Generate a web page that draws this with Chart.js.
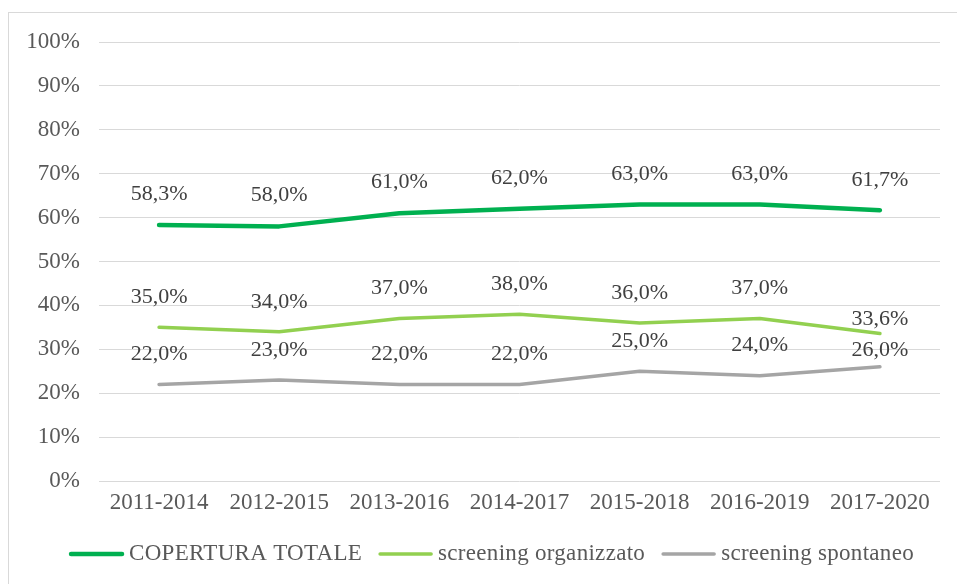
<!DOCTYPE html>
<html>
<head>
<meta charset="utf-8">
<script src="https://cdn.jsdelivr.net/npm/chart.js@4/dist/chart.umd.min.js"></script>
<style>
  html, body { margin: 0; padding: 0; background: #ffffff; overflow: hidden; }
  #frame { position: absolute; left: 8px; top: 12px; width: 1000px; height: 1000px; border: 1px solid #d9d9d9; box-sizing: border-box; }
  #wrap { position: absolute; left: 0; top: 0; width: 957px; height: 584px; }
</style>
</head>
<body>
<div id="frame"></div>
<div id="wrap"><canvas id="c" width="957" height="584"></canvas></div>
<script>
const categories = ['2011-2014', '2012-2015', '2013-2016', '2014-2017', '2015-2018', '2016-2019', '2017-2020'];
const seriesNames = ['COPERTURA TOTALE', 'screening organizzato', 'screening spontaneo'];
const coperturaTotale = [58.3, 58.0, 61.0, 62.0, 63.0, 63.0, 61.7];
const screeningOrganizzato = [35.0, 34.0, 37.0, 38.0, 36.0, 37.0, 33.6];
const screeningSpontaneo = [22.0, 23.0, 22.0, 22.0, 25.0, 24.0, 26.0];
const yTicks = [0, 10, 20, 30, 40, 50, 60, 70, 80, 90, 100];

const FONT = '"Liberation Serif", "Times New Roman", serif';
const fmt = v => v.toFixed(1).replace('.', ',') + '%';

const labelPlugin = {
  id: 'valueLabels',
  afterDatasetsDraw(chart) {
    const ctx = chart.ctx;
    ctx.save();
    ctx.font = '22px ' + FONT;
    ctx.fillStyle = '#404040';
    ctx.textAlign = 'center';
    ctx.textBaseline = 'middle';
    chart.data.datasets.forEach((ds, i) => {
      const meta = chart.getDatasetMeta(i);
      meta.data.forEach((pt, j) => {
        const off = (ds.labelOffsets && ds.labelOffsets[j] != null) ? ds.labelOffsets[j] : 30;
        ctx.fillText(fmt(ds.data[j]), pt.x, pt.y - off);
      });
    });
    ctx.restore();
  }
};

const legendPlugin = {
  id: 'customLegend',
  afterDraw(chart) {
    const ctx = chart.ctx;
    ctx.save();
    ctx.font = '23px ' + FONT;
    ctx.letterSpacing = '0.3px';
    const lineW = 55, gapTxt = 5, gapItem = 16;
    const items = chart.data.datasets.map(ds => ({ text: ds.label, color: ds.borderColor, w: ds.borderWidth, tw: ctx.measureText(ds.label).width }));
    let total = 0;
    items.forEach((it, k) => { total += lineW + gapTxt + it.tw + (k < items.length - 1 ? gapItem : 0); });
    let x = (chart.width - total) / 2 + 13;
    const y = 554;
    items.forEach(it => {
      ctx.strokeStyle = it.color;
      ctx.lineWidth = it.w;
      ctx.lineCap = 'round';
      ctx.beginPath();
      ctx.moveTo(x + 2, y);
      ctx.lineTo(x + lineW - 2, y);
      ctx.stroke();
      x += lineW + gapTxt;
      ctx.fillStyle = '#595959';
      ctx.textAlign = 'left';
      ctx.textBaseline = 'middle';
      ctx.fillText(it.text, x, y);
      x += it.tw + gapItem;
    });
    ctx.restore();
  }
};

new Chart(document.getElementById('c'), {
  type: 'line',
  data: {
    labels: categories,
    datasets: [
      { label: seriesNames[0], data: coperturaTotale, borderColor: '#00B050', backgroundColor: '#00B050', borderWidth: 4.5, labelOffsets: [31, 31, 31, 31, 30, 30, 30] },
      { label: seriesNames[1], data: screeningOrganizzato, borderColor: '#92D050', backgroundColor: '#92D050', borderWidth: 3.5, labelOffsets: [30, 30, 30, 30, 30, 30, 14] },
      { label: seriesNames[2], data: screeningSpontaneo, borderColor: '#A5A5A5', backgroundColor: '#A5A5A5', borderWidth: 3.5, labelOffsets: [30, 30, 30, 30, 30, 30, 17] }
    ]
  },
  options: {
    responsive: false,
    animation: false,
    devicePixelRatio: 1,
    layout: { padding: { top: 42, right: 17, bottom: 58, left: 0 } },
    elements: {
      line: { tension: 0, borderCapStyle: 'round', borderJoinStyle: 'round', fill: false },
      point: { radius: 0, hoverRadius: 0 }
    },
    plugins: {
      legend: { display: false },
      tooltip: { enabled: false }
    },
    scales: {
      x: {
        offset: true,
        grid: { display: false, drawTicks: false },
        border: { display: false },
        ticks: { color: '#595959', font: { family: FONT, size: 23 }, padding: 8, maxRotation: 0 },
        afterFit(s) { s.height = 45; }
      },
      y: {
        min: 0, max: 100,
        afterBuildTicks(s) { s.ticks = yTicks.map(v => ({ value: v })); },
        grid: { color: '#d9d9d9', lineWidth: 1, drawTicks: false },
        border: { display: false },
        ticks: { color: '#595959', font: { family: FONT, size: 23 }, padding: 19, callback: v => v + '%' },
        afterFit(s) { s.width = 99; }
      }
    }
  },
  plugins: [labelPlugin, legendPlugin]
});
</script>
</body>
</html>
